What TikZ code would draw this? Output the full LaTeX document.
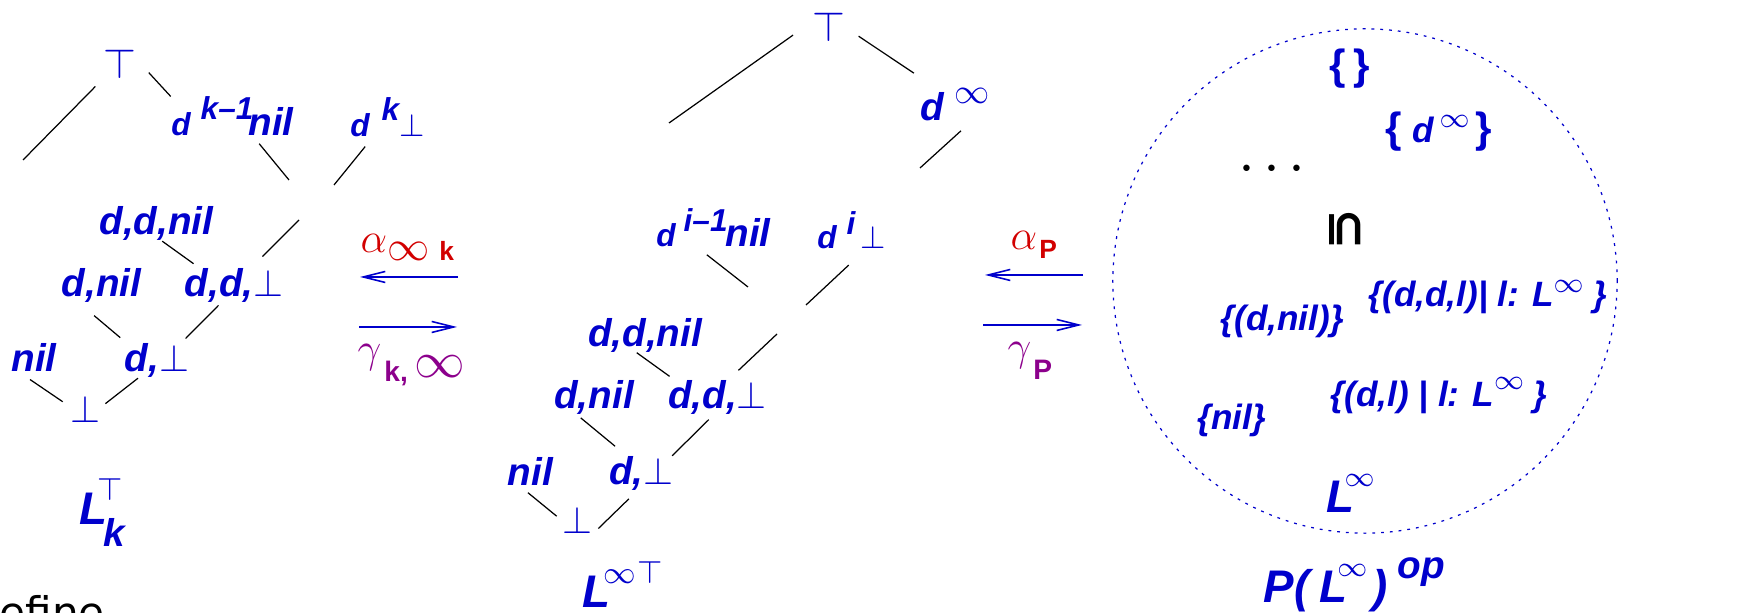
\documentclass[tikz,border=0pt]{standalone}
\usepackage{fontspec}
\setmainfont{Liberation Sans}
\newfontfamily\dejavu{DejaVu Sans}
\usepackage{graphicx}
\usetikzlibrary{arrows.meta, positioning}
\definecolor{latblue}{RGB}{0,0,204}
\definecolor{alphared}{RGB}{210,0,0}
\definecolor{gammapurple}{RGB}{140,0,140}
\newcommand\lat{\fontsize{11}{13}\selectfont\bfseries\itshape}
\newcommand\symsz[1]{\fontsize{#1}{#1}\selectfont}

\begin{document}
\begin{tikzpicture}[x=0.01cm, y=-0.01cm,
    elem/.style={text=latblue, font=\lat, inner sep=0pt},
    sett/.style={text=latblue, font=\fontsize{10}{12}\selectfont\bfseries\itshape, inner sep=0pt, anchor=base west},
    hasse/.style={black, line width=0.35pt},
    galois/.style={latblue, line width=0.45pt, -{Straight Barb[length=2.2mm, width=1.1mm]}}]
    \useasboundingbox (0,0) rectangle (1753,613);
    % left lattice L_k
    \node[elem, font=\symsz{12}] (topL) at (119.5,64) {$\top$};
    \node[elem] (dknil) at (232.5,116.5) {{\symsz{9}d\hspace{0.1cm}\raisebox{4.5pt}{k--1}}\hspace{-0.05cm}nil};
    \node[elem] (dkbot) at (387.5,117) {{\symsz{9}d\hspace{0.12cm}\raisebox{4.5pt}{k}$\bot$}};
    \node[elem] (ddnil) at (156.5,223.5) {d,d,nil};
    \node[elem] (dnil) at (101.5,285) {d,nil};
    \node[elem] (ddbot) at (234,285.5) {d,d,$\bot$};
    \node[elem] (nilL) at (34,357.5) {nil};
    \node[elem] (dbotL) at (157,360.5) {d,$\bot$};
    \node[elem] (botL) at (85,409) {$\bot$};
    \node[elem, anchor=base west, font=\symsz{13}\bfseries\itshape] (LkL) at (79,525) {L\hspace{-0.1cm}\rlap{\raisebox{7pt}{\symsz{9}$\top$}}\hspace{0.06cm}\raisebox{-6pt}{\symsz{11}k}};
    \coordinate (fL1) at (23,160);
    \coordinate (fL2) at (289,180);
    \coordinate (fL3) at (334,185);
    \coordinate (fL4) at (299,220);
    \draw[hasse, shorten <=0.1cm] (topL.south west) -- (fL1);
    \draw[hasse, shorten <=0.18cm] (topL.15) -- (dknil.162);
    \draw[hasse, shorten <=0.09cm] (dknil.-44) -- (fL2);
    \draw[hasse, shorten <=0.12cm] (dkbot.-126) -- (fL3);
    \draw[hasse, shorten >=0.16cm] (fL4) -- (ddbot.46);
    \draw[hasse, shorten >=0.07cm] (ddnil.-72) -- (ddbot.153);
    \draw[hasse, shorten <=0.2cm, shorten >=0.08cm] (dnil.-142) -- (dbotL.150);
    \draw[hasse, shorten <=0.03cm, shorten >=0.06cm] (ddbot.-127) -- (dbotL.36);
    \draw[hasse, shorten <=0.13cm, shorten >=0.08cm] (nilL.-135) -- (botL.170);
    \draw[hasse, shorten >=0.06cm] (dbotL.-137) -- (botL.6);

    % maps between L_k and L_inf
    \node[anchor=base west, text=alphared, inner sep=0pt] (alphaK) at (360,253) {\symsz{12}$\alpha$\raisebox{-2pt}{\symsz{12}$\infty$}\hspace{0.1cm}\raisebox{-2pt}{\symsz{7.5}\bfseries k}};
    \node[anchor=base west, text=gammapurple, inner sep=0pt] (gammaK) at (357,363) {\symsz{12}$\gamma$\hspace{0.03cm}\raisebox{-5.4pt}{\symsz{8}\bfseries k,}\hspace{0.07cm}\raisebox{-4pt}{\symsz{14.4}$\infty$}};
    \coordinate (aKs) at (458,277);
    \coordinate (aKe) at (360,277);
    \coordinate (gKs) at (359,327);
    \coordinate (gKe) at (457,327);
    \draw[galois] (aKs) -- (aKe);
    \draw[galois] (gKs) -- (gKe);

    % middle lattice L_inf
    \node[elem, font=\symsz{12}] (topM) at (829,27) {$\top$};
    \node[elem] (dinf) at (955,104.5) {d\hspace{0.1cm}\raisebox{4.8pt}{\symsz{10}$\infty$}};
    \node[elem] (dinil) at (713.5,227.5) {{\symsz{9}d\hspace{0.08cm}\raisebox{4.3pt}{i--1}}\hspace{-0.02cm}nil};
    \node[elem] (dibot) at (851.5,230) {{\symsz{9}d\hspace{0.1cm}\raisebox{4pt}{i}}\hspace{0.05cm}{\symsz{9}$\bot$}};
    \node[elem] (ddnilM) at (645,335) {d,d,nil};
    \node[elem] (dnilM) at (594,397) {d,nil};
    \node[elem] (ddbotM) at (717.5,397) {d,d,$\bot$};
    \node[elem] (nilM) at (530.5,471) {nil};
    \node[elem] (dbotM) at (641.5,473.5) {d,$\bot$};
    \node[elem] (botM) at (577,520) {$\bot$};
    \node[elem, anchor=base west, font=\symsz{13}\bfseries\itshape] (LinfM) at (582,608) {L\hspace{-0.07cm}\raisebox{7pt}{\symsz{9.5}$\infty$\hspace{0.01cm}$\top$}};
    \coordinate (fM1) at (669,123);
    \coordinate (fM2) at (920,168);
    \coordinate (fM3) at (748,287);
    \coordinate (fM4) at (806,305);
    \coordinate (fM5) at (777,334);
    \draw[hasse, shorten <=0.23cm] (topM.163) -- (fM1);
    \draw[hasse, shorten <=0.15cm, shorten >=0.26cm] (topM.-3) -- (dinf.139);
    \draw[hasse, shorten <=0.14cm] (dinf.-46) -- (fM2);
    \draw[hasse, shorten <=0.12cm] (dinil.-129) -- (fM3);
    \draw[hasse, shorten <=0.23cm] (dibot.-54) -- (fM4);
    \draw[hasse, shorten >=0.13cm] (fM5) -- (ddbotM.57);
    \draw[hasse, shorten >=0.05cm] (ddnilM.-115) -- (ddbotM.158);
    \draw[hasse, shorten <=0.05cm, shorten >=0.15cm] (dnilM.-134) -- (dbotM.130);
    \draw[hasse, shorten <=0.07cm] (ddbotM.-102) -- (dbotM.30);
    \draw[hasse, shorten <=0.11cm, shorten >=0.06cm] (nilM.-127) -- (botM.180);
    \draw[hasse, shorten <=0.11cm, shorten >=0.08cm] (dbotM.-105) -- (botM.-42);

    % maps between L_inf and P(L_inf)
    \node[anchor=base west, text=alphared, inner sep=0pt] (alphaP) at (1010,250) {\symsz{12}$\alpha$\hspace{0.02cm}\raisebox{-2.3pt}{\symsz{7.5}\bfseries P}};
    \node[anchor=base west, text=gammapurple, inner sep=0pt] (gammaP) at (1007,361) {\symsz{12}$\gamma$\hspace{0.02cm}\raisebox{-5.4pt}{\symsz{8}\bfseries P}};
    \coordinate (aPs) at (1083,275);
    \coordinate (aPe) at (985,275);
    \coordinate (gPs) at (983,325);
    \coordinate (gPe) at (1082,325);
    \draw[galois] (aPs) -- (aPe);
    \draw[galois] (gPs) -- (gPe);

    % powerset P(L_inf)^op
    \node[draw=latblue, circle, minimum size=5.04cm, line width=0.35pt, dash pattern=on 0.8pt off 1.7pt, inner sep=0pt] (powset) at (1365,281) {};
    \node[elem, font=\symsz{12}\bfseries] (emptyS) at (1350,69) {\{\hspace{0.08cm}\}};
    \node[elem, font=\symsz{12}\bfseries, anchor=base west] (dinfS) at (1385,143) {\{\hspace{0.1cm}{\itshape\symsz{10}d}\hspace{0.06cm}\raisebox{4.5pt}{\symsz{8.5}$\infty$}\hspace{0.06cm}\}};
    \node[font=\symsz{16}, inner sep=0pt, anchor=base] (dotsS) at (1272,184) {$\cdot$\hspace{0.08cm}$\cdot$\hspace{0.08cm}$\cdot$};
    \node[inner sep=0pt] (subS) at (1345,229) {\rotatebox{-90}{\dejavu\bfseries\symsz{14}⊆}};
    \node[sett] (ddlS) at (1368,307) {\{(d,d,l)| l: L\raisebox{4.2pt}{\symsz{8}$\infty$} \}};
    \node[sett] (dnilS) at (1220,331) {\{(d,nil)\}};
    \node[sett] (dlS) at (1330,407) {\{(d,l) | l: L\raisebox{5pt}{\symsz{8}$\infty$} \}};
    \node[sett] (nilS) at (1197,430) {\{nil\}};
    \node[elem, anchor=base west, font=\symsz{13}\bfseries\itshape] (LinfS) at (1326,513) {L\hspace{-0.1cm}\raisebox{7.4pt}{\symsz{8.5}$\infty$}};
    \node[elem, anchor=base west, font=\symsz{13}\bfseries\itshape] (PLop) at (1263,603) {P(\hspace{0.1cm}L\hspace{-0.1cm}\raisebox{7.4pt}{\symsz{8.5}$\infty$}\hspace{0.05cm})\hspace{0.1cm}\raisebox{7pt}{\symsz{11}op}};

    % cut-off slide text
    \node[anchor=base west, inner sep=0pt, font=\dejavu\symsz{12}] (defineT) at (-1,628) {efine};
\end{tikzpicture}
\end{document}
